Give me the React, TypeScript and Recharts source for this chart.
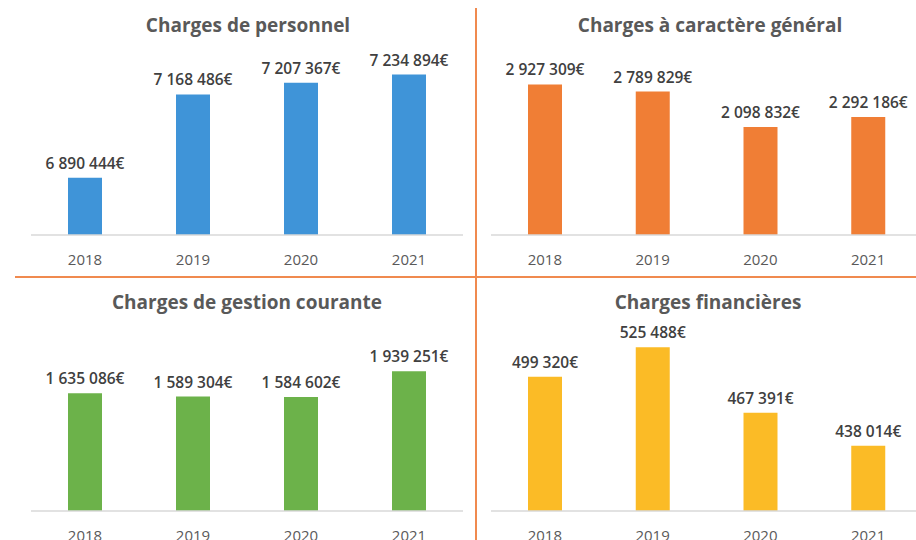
import React from 'react';
import { BarChart, Bar, XAxis, YAxis, LabelList } from 'recharts';

const YEARS = ['2018', '2019', '2020', '2021'];
const PERSONNEL = [6890444, 7168486, 7207367, 7234894];
const GENERAL = [2927309, 2789829, 2098832, 2292186];
const GESTION = [1635086, 1589304, 1584602, 1939251];
const FINANCIERES = [499320, 525488, 467391, 438014];

const FONT = '"Open Sans", "Liberation Sans", sans-serif';
const SEPARATOR = '#f08a4f';

// non-breaking spaces so the label never wraps to the bar width
const fmt = (v: number) => String(v).replace(/\B(?=(\d{3})+(?!\d))/g, '\u00A0') + '€';

interface PanelProps {
    title: string;
    values: number[];
    color: string;
    domain: [number, number];
    left: number;
    top: number;
    width: number;
    height: number;
    margin: { top: number; right: number; bottom: number; left: number };
    titleX: number;
    titleY: number;
}

function Panel({ title, values, color, domain, left, top, width, height, margin, titleX, titleY }: PanelProps) {
    const data = YEARS.map((year, i) => ({ year, value: values[i] }));
    return (
        <>
            <div style={{
                position: 'absolute', left: titleX - 220, top: titleY - 15, width: 440,
                textAlign: 'center', fontFamily: FONT, fontWeight: 700, fontSize: 19,
                color: '#595959', lineHeight: '30px',
            }}>
                {title}
            </div>
            <div style={{ position: 'absolute', left, top }}>
                <BarChart width={width} height={height} data={data} margin={margin}>
                    <XAxis
                        dataKey="year"
                        axisLine={{ stroke: '#d9d9d9', strokeWidth: 1.5 }}
                        tickLine={false}
                        tickMargin={13}
                        tick={{ fill: '#595959', fontSize: 15, fontFamily: FONT }}
                    />
                    <YAxis hide width={0} domain={domain} />
                    {/* fixed bar width like the Excel original */}
                    <Bar dataKey="value" fill={color} barSize={34} isAnimationActive={false}>
                        <LabelList
                            dataKey="value"
                            position="top"
                            offset={9}
                            formatter={(v: any) => fmt(Number(v))}
                            style={{ fill: '#404040', fontSize: 15.5, fontFamily: FONT, fontWeight: 600 }}
                        />
                    </Bar>
                </BarChart>
            </div>
        </>
    );
}

export default function App() {
    return (
        <div style={{
            position: 'absolute', left: 0, top: 0, width: 916, height: 540,
            overflow: 'hidden', background: '#ffffff',
        }}>
            <Panel
                title="Charges de personnel" values={PERSONNEL} color="#3f94d8"
                domain={[6700000, 7300000]}
                left={0} top={0} width={470} height={280}
                margin={{ top: 55, right: 7, bottom: 15, left: 31 }}
                titleX={248} titleY={25}
            />
            <Panel
                title="Charges à caractère général" values={GENERAL} color="#f07e35"
                domain={[0, 3500000]}
                left={476} top={0} width={455} height={280}
                margin={{ top: 55, right: 9, bottom: 15, left: 15 }}
                titleX={710} titleY={25}
            />
            <Panel
                title="Charges de gestion courante" values={GESTION} color="#6cb24a"
                domain={[0, 2500000]}
                left={0} top={277} width={470} height={270}
                margin={{ top: 54, right: 7, bottom: 6, left: 31 }}
                titleX={247} titleY={302}
            />
            <Panel
                title="Charges financières" values={FINANCIERES} color="#fbbb26"
                domain={[380000, 540000]}
                left={476} top={277} width={455} height={270}
                margin={{ top: 54, right: 9, bottom: 6, left: 15 }}
                titleX={708} titleY={302}
            />

            {/* orange separators between the four panels */}
            <div style={{ position: 'absolute', left: 15, top: 276, width: 901, height: 2, background: SEPARATOR }} />
            <div style={{ position: 'absolute', left: 475, top: 8, width: 2, height: 532, background: SEPARATOR }} />
        </div>
    );
}
